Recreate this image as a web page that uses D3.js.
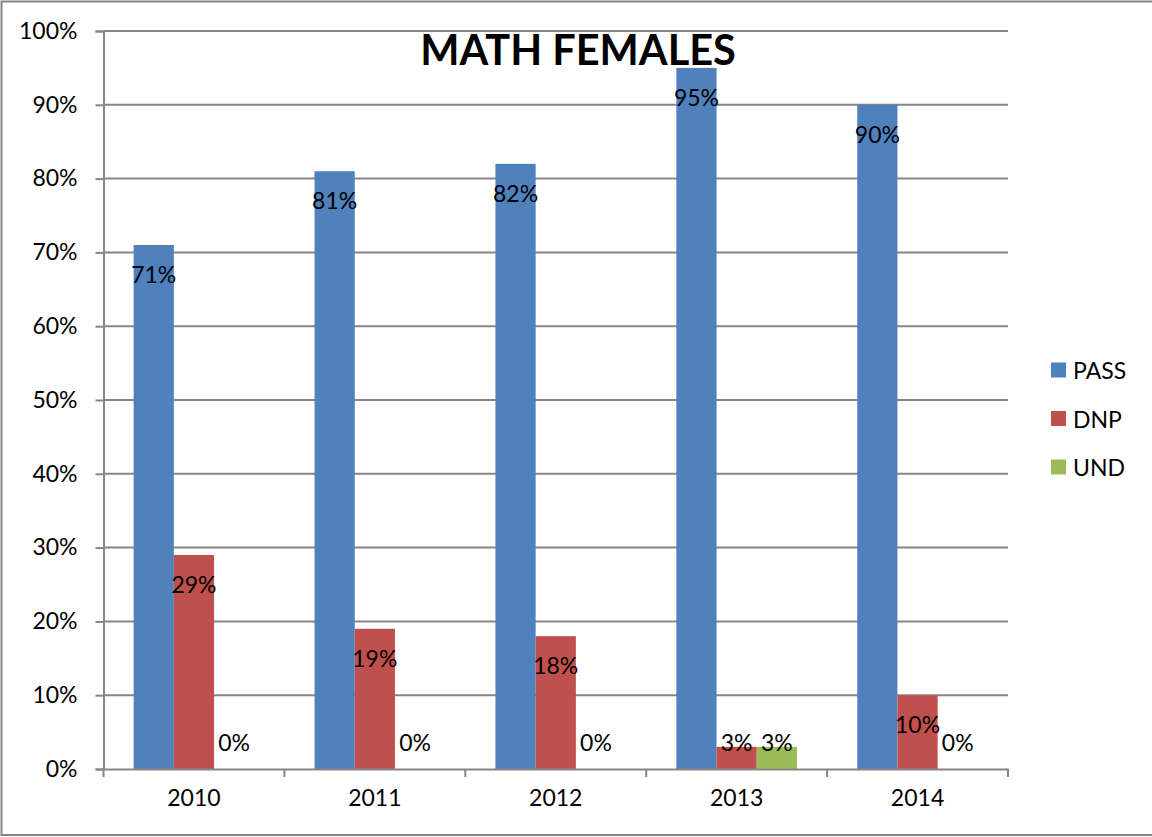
<!DOCTYPE html>
<html>
<head>
<meta charset="utf-8">
<script src="https://cdn.jsdelivr.net/npm/d3@7"></script>
<style>
  body { margin: 0; background: #fff; }
  text { font-family: Lato, "Open Sans", sans-serif; fill: #000; }
</style>
</head>
<body>
<svg id="chart" width="1152" height="837"></svg>
<script>
// data
const years = ["2010", "2011", "2012", "2013", "2014"];
const seriesNames = ["PASS", "DNP", "UND"];
const passVals = [71, 81, 82, 95, 90];
const dnpVals = [29, 19, 18, 3, 10];
const undVals = [0, 0, 0, 3, 0];
const colors = ["#4F81BD", "#C0504D", "#9BBB59"];
const yTicks = [0, 10, 20, 30, 40, 50, 60, 70, 80, 90, 100];

const allSeries = [passVals, dnpVals, undVals];
const fontSize = 23;

const svg = d3.select("#chart");
const plot = {left: 103.5, right: 1008, top: 31, bottom: 769};

// outer chart border (no right edge visible)
svg.append("path")
    .attr("d", "M1160,1.5 H1.5 V835 H1160")
    .attr("fill", "none")
    .attr("stroke", "#868686")
    .attr("stroke-width", 2);

const x = d3.scaleBand()
    .domain(years)
    .range([plot.left, plot.right]);

const y = d3.scaleLinear()
    .domain([0, 100])
    .range([plot.bottom, plot.top]);

// bar width: gap width 150% -> 4.5 bar widths per category
const barW = x.bandwidth() / 4.5;
const xs = d3.scaleBand()
    .domain(seriesNames)
    .range([barW * 0.75, barW * 3.75]);

// gridlines
svg.append("g")
    .selectAll("line")
    .data(yTicks.filter(d => d > 0))
    .enter().append("line")
    .attr("x1", plot.left)
    .attr("x2", plot.right)
    .attr("y1", d => y(d))
    .attr("y2", d => y(d))
    .attr("stroke", "#868686")
    .attr("stroke-width", 2);

// y axis
const yAxis = svg.append("g")
    .attr("transform", `translate(${plot.left},0)`)
    .call(d3.axisLeft(y).tickValues(yTicks).tickSize(8).tickPadding(18).tickFormat(d => d + "%"));
yAxis.select(".domain").attr("stroke", "#868686").attr("stroke-width", 2);
yAxis.selectAll(".tick line").attr("stroke", "#868686").attr("stroke-width", 2);
yAxis.selectAll(".tick text")
    .attr("font-size", fontSize)
    .style("font-family", "Lato, sans-serif")
    .attr("fill", "#000");

// bars
const groups = svg.append("g")
    .selectAll("g")
    .data(years)
    .enter().append("g")
    .attr("transform", d => `translate(${x(d)},0)`);

seriesNames.forEach((name, si) => {
    groups.append("rect")
        .attr("x", xs(name))
        .attr("width", xs.bandwidth())
        .attr("y", (d, i) => y(allSeries[si][i]))
        .attr("height", (d, i) => y(0) - y(allSeries[si][i]))
        .attr("fill", colors[si]);
});

// x axis
const xAxis = svg.append("g")
    .attr("transform", `translate(0,${plot.bottom})`)
    .call(d3.axisBottom(x).tickSize(0).tickPadding(21));
xAxis.select(".domain").attr("stroke", "#868686").attr("stroke-width", 2);
xAxis.selectAll(".tick text")
    .attr("font-size", fontSize)
    .style("font-family", "Lato, sans-serif")
    .attr("fill", "#000");
// category boundary ticks
svg.append("g")
    .selectAll("line")
    .data(d3.range(years.length + 1))
    .enter().append("line")
    .attr("x1", i => plot.left + i * x.step())
    .attr("x2", i => plot.left + i * x.step())
    .attr("y1", plot.bottom)
    .attr("y2", plot.bottom + 8)
    .attr("stroke", "#868686")
    .attr("stroke-width", 2);

// data labels
seriesNames.forEach((name, si) => {
    groups.append("text")
        .attr("x", xs(name) + xs.bandwidth() / 2)
        .attr("y", (d, i) => Math.min(y(allSeries[si][i]) + 29, plot.bottom - 27))
        .attr("text-anchor", "middle")
        .attr("dominant-baseline", "central")
        .attr("font-size", fontSize)
        .text((d, i) => allSeries[si][i] + "%");
});

// title
svg.append("text")
    .attr("x", 578)
    .attr("y", 65)
    .attr("text-anchor", "middle")
    .attr("font-size", 41.5)
    .attr("font-weight", "bold")
    .text("MATH FEMALES");

// legend
const legend = svg.append("g")
    .selectAll("g")
    .data(seriesNames)
    .enter().append("g")
    .attr("transform", (d, i) => `translate(1051,${370 + i * 48.5})`);
legend.append("rect")
    .attr("x", 0)
    .attr("y", -7.5)
    .attr("width", 15)
    .attr("height", 15)
    .attr("fill", (d, i) => colors[i]);
legend.append("text")
    .attr("x", 22)
    .attr("y", 0)
    .attr("dominant-baseline", "central")
    .attr("font-size", fontSize)
    .text(d => d);
</script>
</body>
</html>
